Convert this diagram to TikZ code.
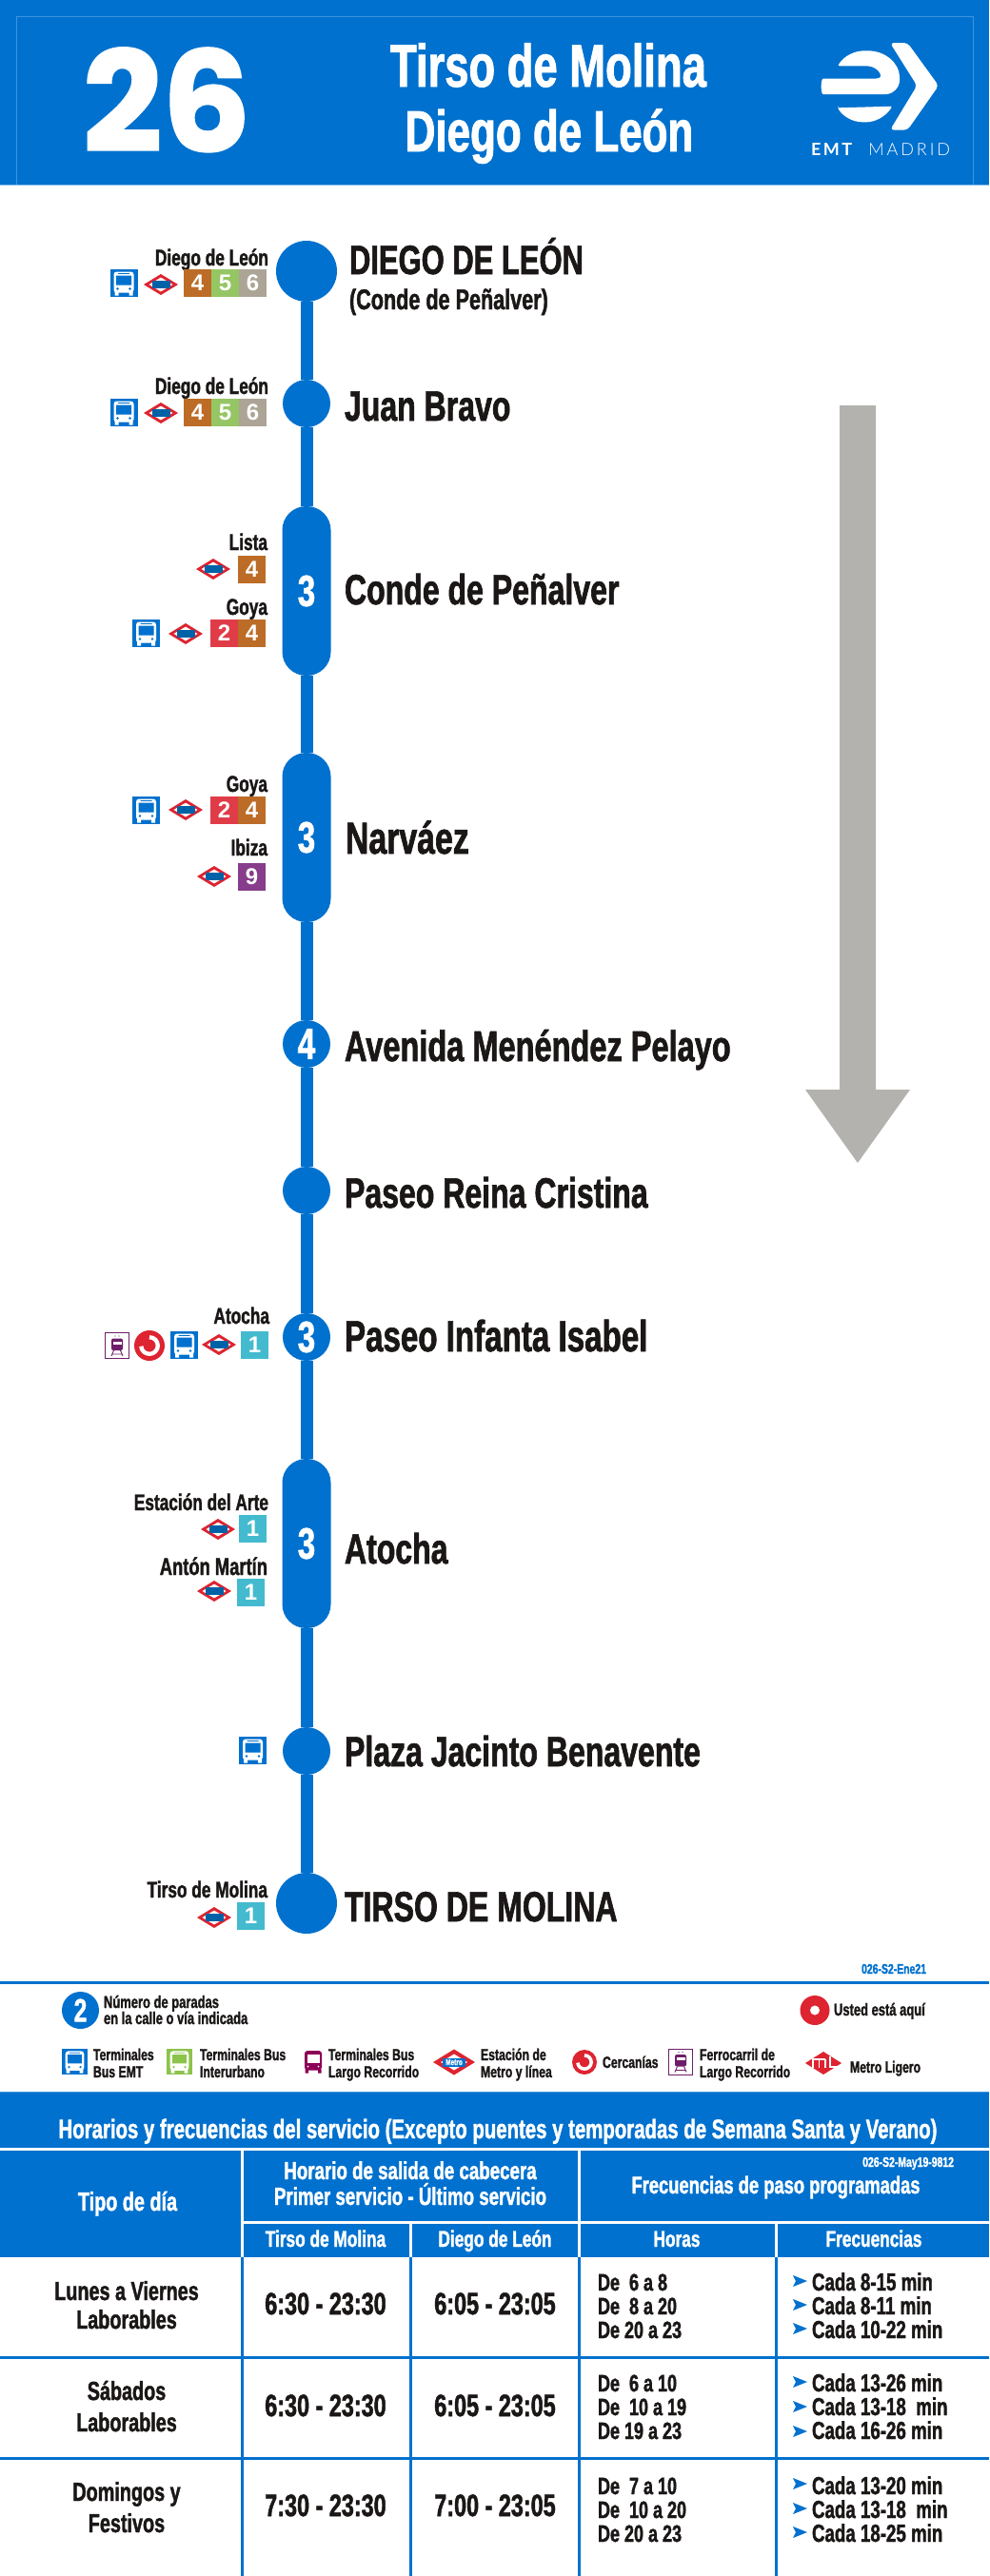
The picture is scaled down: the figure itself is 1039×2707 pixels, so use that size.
\documentclass[tikz,border=0pt]{standalone}
\usepackage{fontspec}
\usepackage{xcolor}
\usetikzlibrary{positioning}
\newfontfamily\condfont[FakeStretch=0.72,FakeBold=1.4]{Liberation Sans}
\newfontfamily\heldfont{Liberation Sans}
\newfontfamily\numfont[FakeBold=1.5]{Poppins}
\newfontfamily\logofont[LetterSpace=14]{Lato}
\newfontfamily\logothin[LetterSpace=16]{Lato Light}
\definecolor{emtblue}{RGB}{0,113,206}
\definecolor{edgeblue}{RGB}{60,150,225}
\definecolor{inkblack}{RGB}{26,23,22}
\definecolor{arrowgrey}{RGB}{179,178,174}
\definecolor{metrored}{RGB}{221,36,48}
\definecolor{metroblue}{RGB}{0,98,166}
\definecolor{lineone}{RGB}{68,186,207}
\definecolor{linetwo}{RGB}{224,60,72}
\definecolor{linefour}{RGB}{188,108,38}
\definecolor{linefive}{RGB}{150,198,100}
\definecolor{linesix}{RGB}{172,165,150}
\definecolor{linenine}{RGB}{135,60,140}
\definecolor{interbus}{RGB}{140,195,75}
\definecolor{longbus}{RGB}{140,0,85}
\definecolor{longrail}{RGB}{110,30,105}
\newcommand{\cfont}[1]{\condfont\bfseries\fontsize{#1}{#1}\selectfont}

\begin{document}
\begin{tikzpicture}[
      x=1pt, y=-1pt,
      every node/.style={inner sep=0pt, outer sep=0pt},
      txt/.style={anchor=base west, text=inkblack},
      txtr/.style={anchor=base east, text=inkblack},
      txtc/.style={anchor=base, text=inkblack},
      wtxt/.style={anchor=base, text=white},
      stopname/.style={txt, font=\cfont{44.5}},
      extname/.style={txtr, font=\cfont{24}},
      legend/.style={txt, font=\cfont{17}},
      dayname/.style={txtc, font=\cfont{27.5}},
      hours/.style={txtc, font=\cfont{32.5}},
      body/.style={txt, font=\cfont{25}},
      freq/.style={txt, font=\cfont{26}},
      head/.style={wtxt, font=\cfont{26}},
      subhead/.style={wtxt, font=\cfont{24}},
      bigdot/.style={circle, fill=emtblue, minimum size=64pt},
      smalldot/.style={circle, fill=emtblue, minimum size=50pt, text=white,
                       font=\cfont{46}},
      pill/.style={rectangle, rounded corners=25pt, fill=emtblue, minimum width=51pt,
                   minimum height=178pt, text=white, font=\cfont{46}},
      route/.style={draw=emtblue, line width=13pt},
      linebox/.style={minimum size=29pt, anchor=north west, text=white,
                      font=\heldfont\bfseries\fontsize{24}{24}\selectfont},
      whiterule/.style={draw=white, line width=3pt},
      bluerule/.style={draw=emtblue, line width=3pt},
      pics/busicon/.style={code={
        \fill[#1] (-14.5,-14.5) rectangle (14.5,14.5);
        \fill[white, rounded corners=3pt] (-10.5,-12) rectangle (10.5,10);
        \fill[white] (-9.5,9) rectangle (-5.5,13) (5.5,9) rectangle (9.5,13);
        \fill[#1] (-8,-8) rectangle (8,2) (-6,-10.5) rectangle (6,-9.7);
        \fill[#1] (-6.5,6) circle (1.3) (6.5,6) circle (1.3);
      }},
      pics/metroicon/.style={code={
        \fill[metrored] (-18,0) -- (0,-11) -- (18,0) -- (0,11) -- cycle;
        \fill[white] (-12.5,0) -- (0,-7.4) -- (12.5,0) -- (0,7.4) -- cycle;
        \fill[metroblue] (-9.5,-3.7) rectangle (9.5,3.7);
      }},
      pics/railicon/.style={code={
        \draw[longrail, fill=white, line width=.8pt] (-12.5,-13.5) rectangle (12.5,13.5);
        \fill[longrail, rounded corners=2pt] (-6,-7.5) rectangle (6,5);
        \fill[white] (-4.5,-4.5) rectangle (4.5,-1.5);
        \draw[longrail, line width=.9pt] (-3.5,5) -- (-6,11) (3.5,5) -- (6,11) (-5,9) -- (5,9);
        \fill[longrail] (-2,-10) circle (.7) (2,-10) circle (.7);
      }},
      pics/cercanias/.style={code={
        \fill[metrored] (0,0) circle (#1);
        \draw[white, line width=.27*#1] (0,-.55*#1) arc[start angle=-90, end angle=175, radius=.55*#1];
        \fill[metrored] (0,-.02*#1) circle (.22*#1);
      }},
      pics/bullet/.style={code={
        \fill[emtblue] (0,-6) -- (15,0) -- (0,6) -- (3,0) -- cycle;
      }}
    ]
    \useasboundingbox (0,0) rectangle (1039,2707);
    \fill[white] (0,0) rectangle (1039,2707);

    % title band
    \fill[emtblue] (0,0) rectangle (1039,194);
    \draw[edgeblue, line width=.5pt] (17,195) -- (17,17) -- (1022,17) -- (1022,195);
    \draw[edgeblue!60, line width=1pt] (0,194.5) -- (1039,194.5);
    \node[anchor=base west, text=white, font=\numfont\bfseries\fontsize{146}{146}\selectfont] (number) at (87,159) {26};
    \node[wtxt, font=\cfont{63}] (headtop) at (576,91) {Tirso de Molina};
    \node[wtxt, font=\cfont{61}] (headbot) at (577,159) {Diego de León};
    \begin{scope}[shift={(830,20)}, scale=1/3]
      \fill[white, rounded corners=4pt] (315,75) -- (370,75) -- (468,210) -- (370,350) -- (315,350) -- (400,210) -- cycle;
      \fill[white, rounded corners=2pt] (150,148) .. controls (170,115) and (205,100) .. (240,100)
        .. controls (300,100) and (345,140) .. (345,188) .. controls (345,215) and (325,237) .. (295,237)
        -- (110,237) .. controls (96,237) and (96,188) .. (110,188) -- (275,188)
        .. controls (295,180) and (275,148) .. (235,148) -- cycle;
      \fill[white, rounded corners=2pt] (150,280) -- (322,275) .. controls (300,310) and (265,325) .. (235,325)
        .. controls (195,325) and (165,305) .. (150,280) -- cycle;
    \end{scope}
    \node[anchor=base west, text=white, font=\logofont\bfseries\fontsize{18}{18}\selectfont] (emt) at (852,163) {EMT};
    \node[anchor=base east, text=white, font=\logothin\fontsize{18}{18}\selectfont] (madrid) at (998,163) {MADRID};

    % direction arrow
    \fill[arrowgrey] (882,426) -- (920,426) -- (920,1145) -- (956,1145) -- (901,1222)
      -- (846,1145) -- (882,1145) -- cycle;

    % stops
    \node[bigdot]   (diegoleon) at (322,285) {};
    \node[smalldot] (juanbravo) at (322,424) {};
    \node[pill]     (conde)     at (322,621) {3};
    \node[pill]     (narvaez)   at (322,880) {3};
    \node[smalldot] (avenida)   at (322,1097) {4};
    \node[smalldot] (reina)     at (322,1251) {};
    \node[smalldot] (infanta)   at (322,1405) {3};
    \node[pill]     (atocha)    at (322,1622) {3};
    \node[smalldot] (plaza)     at (322,1840) {};
    \node[bigdot]   (tirso)     at (322,2000) {};

    \draw[route] (diegoleon) -- (juanbravo);
    \draw[route] (juanbravo) -- (conde);
    \draw[route] (conde)     -- (narvaez);
    \draw[route] (narvaez)   -- (avenida);
    \draw[route] (avenida)   -- (reina);
    \draw[route] (reina)     -- (infanta);
    \draw[route] (infanta)   -- (atocha);
    \draw[route] (atocha)    -- (plaza);
    \draw[route] (plaza)     -- (tirso);

    \node[stopname, font=\cfont{43}] (ndiego)   at (367,288)  {DIEGO DE LEÓN};
    \node[txt, font=\cfont{30}] (ndiegob) at (367,325) {(Conde de Peñalver)};
    \node[stopname] (nbravo)   at (362,442)  {Juan Bravo};
    \node[stopname] (nconde)   at (362,635)  {Conde de Peñalver};
    \node[stopname, font=\cfont{47}] (nnarvaez) at (363,897)  {Narváez};
    \node[stopname, font=\cfont{45.2}] (navenida) at (362,1115) {Avenida Menéndez Pelayo};
    \node[stopname] (nreina)   at (362,1269) {Paseo Reina Cristina};
    \node[stopname, font=\cfont{46}] (ninfanta) at (362,1420) {Paseo Infanta Isabel};
    \node[stopname] (natocha)  at (362,1643) {Atocha};
    \node[stopname] (nplaza)   at (362,1856) {Plaza Jacinto Benavente};
    \node[stopname] (ntirso)   at (362,2019) {TIRSO DE MOLINA};

    % correspondences
    \node[extname] (xdiegoa) at (282,279) {Diego de León};
    \pic at (130,297.5) {busicon=emtblue};
    \pic at (169,299) {metroicon};
    \node[linebox, fill=linefour] (da4) at (193,283) {4};
    \node[linebox, fill=linefive, right=0pt of da4] (da5) {5};
    \node[linebox, fill=linesix,  right=0pt of da5] (da6) {6};

    \node[extname] (xdiegob) at (282,414) {Diego de León};
    \pic at (130,433.5) {busicon=emtblue};
    \pic at (169,434) {metroicon};
    \node[linebox, fill=linefour] (db4) at (193,419) {4};
    \node[linebox, fill=linefive, right=0pt of db4] (db5) {5};
    \node[linebox, fill=linesix,  right=0pt of db5] (db6) {6};

    \node[extname] (xlista) at (281,578) {Lista};
    \pic at (224,598) {metroicon};
    \node[linebox, fill=linefour] (li4) at (250,584) {4};

    \node[extname] (xgoyaa) at (281,646) {Goya};
    \pic at (153.5,665.5) {busicon=emtblue};
    \pic at (195,666) {metroicon};
    \node[linebox, fill=linetwo] (ga2) at (221,651) {2};
    \node[linebox, fill=linefour, right=0pt of ga2] (ga4) {4};

    \node[extname] (xgoyab) at (281,832) {Goya};
    \pic at (153.5,851.5) {busicon=emtblue};
    \pic at (195,851) {metroicon};
    \node[linebox, fill=linetwo] (gb2) at (221,837) {2};
    \node[linebox, fill=linefour, right=0pt of gb2] (gb4) {4};

    \node[extname] (xibiza) at (281,899) {Ibiza};
    \pic at (225,921) {metroicon};
    \node[linebox, fill=linenine] (ib9) at (250,907) {9};

    \node[extname] (xatocha) at (283,1391) {Atocha};
    \pic at (123,1414) {railicon};
    \pic at (157,1414) {cercanias=16};
    \pic at (193.5,1413.5) {busicon=emtblue};
    \pic at (230,1413) {metroicon};
    \node[linebox, fill=lineone] (at1) at (253,1399) {1};

    \node[extname] (xarte) at (282,1587) {Estación del Arte};
    \pic at (229,1607) {metroicon};
    \node[linebox, fill=lineone] (ar1) at (251,1592) {1};

    \node[extname, font=\cfont{25.5}] (xanton) at (281,1655) {Antón Martín};
    \pic at (225,1672) {metroicon};
    \node[linebox, fill=lineone] (an1) at (249,1659) {1};

    \pic at (265.5,1839.5) {busicon=emtblue};

    \node[extname] (xtirso) at (281,1994) {Tirso de Molina};
    \pic at (225,2015) {metroicon};
    \node[linebox, fill=lineone] (ti1) at (249,1999) {1};

    % key
    \node[anchor=base east, text=emtblue, font=\cfont{14.5}] (codea) at (973,2074) {026-S2-Ene21};
    \draw[bluerule] (0,2083) -- (1039,2083);
    \node[circle, fill=emtblue, minimum size=39pt, text=white, font=\cfont{34}] (keytwo) at (84.5,2112.5) {2};
    \node[txt, font=\cfont{18}] (keya) at (109,2110) {Número de paradas};
    \node[txt, font=\cfont{18}] (keyb) at (109,2127) {en la calle o vía indicada};
    \node[circle, fill=metrored, minimum size=31pt] (keyhere) at (856,2112.5) {};
    \node[circle, fill=white, minimum size=10pt] (keyherein) at (keyhere) {};
    \node[txt, font=\cfont{18}] (keyc) at (876,2118) {Usted está aquí};

    \pic[scale=.93] at (78.5,2166.5) {busicon=emtblue};
    \node[legend] (tba) at (98,2165) {Terminales};
    \node[legend] (tbb) at (98,2183) {Bus EMT};
    \pic[scale=.93] at (188.5,2166.5) {busicon=interbus};
    \node[legend] (tca) at (210,2165) {Terminales Bus};
    \node[legend] (tcb) at (210,2183) {Interurbano};
    \begin{scope}[shift={(329,2166.5)}]
      \fill[longbus, rounded corners=3pt] (-9,-11.5) rectangle (9,9);
      \fill[longbus] (-8.5,8) rectangle (-5,12) (5,8) rectangle (8.5,12);
      \fill[white] (-6.5,-8) rectangle (6.5,1);
      \fill[white] (-5.5,5) circle (1) (5.5,5) circle (1);
    \end{scope}
    \node[legend] (tda) at (345,2165) {Terminales Bus};
    \node[legend] (tdb) at (345,2183) {Largo Recorrido};
    \fill[metrored] (455,2167) -- (477,2153.5) -- (499,2167) -- (477,2180.5) -- cycle;
    \fill[white] (463,2167) -- (477,2158.5) -- (491,2167) -- (477,2175.5) -- cycle;
    \node[fill=emtblue, minimum width=24pt, minimum height=9pt, text=white, font=\cfont{9}] (keymetro) at (477,2167) {Metro};
    \node[legend] (tea) at (505,2165) {Estación de};
    \node[legend] (teb) at (505,2183) {Metro y línea};
    \pic at (614,2167) {cercanias=13};
    \node[legend] (tfa) at (633,2173) {Cercanías};
    \pic at (715,2166.5) {railicon};
    \node[legend] (tga) at (735,2165) {Ferrocarril de};
    \node[legend] (tgb) at (735,2183) {Largo Recorrido};
    \begin{scope}[shift={(865,2168)}]
      \fill[metrored] (-19,0) -- (0,-12) -- (19,0) -- (0,12) -- cycle;
      \draw[white, line width=1.3pt] (-11,5) -- (-11,-4) -- (2,-4) (-4.5,-4) -- (-4.5,5) (2,-4) -- (2,5)
        (7,-7) -- (7,4) -- (16,4);
    \end{scope}
    \node[legend] (tha) at (893,2178) {Metro Ligero};

    % timetable
    \fill[emtblue] (0,2199) rectangle (1039,2372);
    \draw[edgeblue, line width=1pt] (0,2198.5) -- (1039,2198.5);
    \node[anchor=base, text=white, font=\cfont{28.3}] (tabletitle) at (523,2247) {Horarios y frecuencias del servicio (Excepto puentes y temporadas de Semana Santa y Verano)};
    \draw[whiterule] (0,2258) -- (1039,2258);
    \draw[whiterule] (254,2335) -- (1039,2335);
    \draw[whiterule] (254,2258) -- (254,2372);
    \draw[whiterule] (608,2258) -- (608,2372);
    \draw[whiterule] (431,2335) -- (431,2372);
    \draw[whiterule] (815,2335) -- (815,2372);

    \draw[bluerule] (254,2372) -- (254,2707);
    \draw[bluerule] (431,2372) -- (431,2707);
    \draw[bluerule] (608,2372) -- (608,2707);
    \draw[bluerule] (815,2372) -- (815,2707);
    \draw[bluerule] (0,2477) -- (1039,2477);
    \draw[bluerule] (0,2583) -- (1039,2583);

    \node[wtxt, font=\cfont{27.5}] (htipo) at (134,2323) {Tipo de día};
    \node[head] (hsala) at (431,2290) {Horario de salida de cabecera};
    \node[head] (hsalb) at (431,2317) {Primer servicio - Último servicio};
    \node[anchor=base east, text=white, font=\cfont{14.5}] (codeb) at (1002,2277) {026-S2-May19-9812};
    \node[wtxt, font=\cfont{25.5}] (hfreq) at (815,2305) {Frecuencias de paso programadas};
    \node[subhead] (hsuba) at (342,2361) {Tirso de Molina};
    \node[subhead] (hsubb) at (520,2361) {Diego de León};
    \node[subhead] (hsubc) at (711,2361) {Horas};
    \node[subhead] (hsubd) at (918,2361) {Frecuencias};

    \node[dayname] (laba) at (133,2417) {Lunes a Viernes};
    \node[dayname] (labb) at (133,2447) {Laborables};
    \node[dayname] (saba) at (133,2522) {Sábados};
    \node[dayname] (sabb) at (133,2555) {Laborables};
    \node[dayname] (doma) at (133,2628) {Domingos y};
    \node[dayname] (domb) at (133,2661) {Festivos};

    \node[hours] (ta1) at (342,2432) {6:30 - 23:30};
    \node[hours] (tb1) at (520,2432) {6:05 - 23:05};
    \node[hours] (ta2) at (342,2539) {6:30 - 23:30};
    \node[hours] (tb2) at (520,2539) {6:05 - 23:05};
    \node[hours] (ta3) at (342,2644) {7:30 - 23:30};
    \node[hours] (tb3) at (520,2644) {7:00 - 23:05};

    \node[body] (h1a) at (628,2407) {De\ \ 6 a 8};
    \node[body] (h1b) at (628,2432) {De\ \ 8 a 20};
    \node[body] (h1c) at (628,2457) {De 20 a 23};
    \node[body] (h2a) at (628,2513) {De\ \ 6 a 10};
    \node[body] (h2b) at (628,2538) {De\ \ 10 a 19};
    \node[body] (h2c) at (628,2563) {De 19 a 23};
    \node[body] (h3a) at (628,2621) {De\ \ 7 a 10};
    \node[body] (h3b) at (628,2646) {De\ \ 10 a 20};
    \node[body] (h3c) at (628,2671) {De 20 a 23};

    \pic at (833,2397) {bullet};
    \pic at (833,2422) {bullet};
    \pic at (833,2447) {bullet};
    \pic at (833,2503) {bullet};
    \pic at (833,2529) {bullet};
    \pic at (833,2555) {bullet};
    \pic at (833,2610) {bullet};
    \pic at (833,2636) {bullet};
    \pic at (833,2661) {bullet};
    \node[freq] (f1a) at (853,2407) {Cada 8-15 min};
    \node[freq] (f1b) at (853,2432) {Cada 8-11 min};
    \node[freq] (f1c) at (853,2457) {Cada 10-22 min};
    \node[freq] (f2a) at (853,2513) {Cada 13-26 min};
    \node[freq] (f2b) at (853,2538) {Cada 13-18\ \ min};
    \node[freq] (f2c) at (853,2563) {Cada 16-26 min};
    \node[freq] (f3a) at (853,2621) {Cada 13-20 min};
    \node[freq] (f3b) at (853,2646) {Cada 13-18\ \ min};
    \node[freq] (f3c) at (853,2671) {Cada 18-25 min};
  \end{tikzpicture}
\end{document}
